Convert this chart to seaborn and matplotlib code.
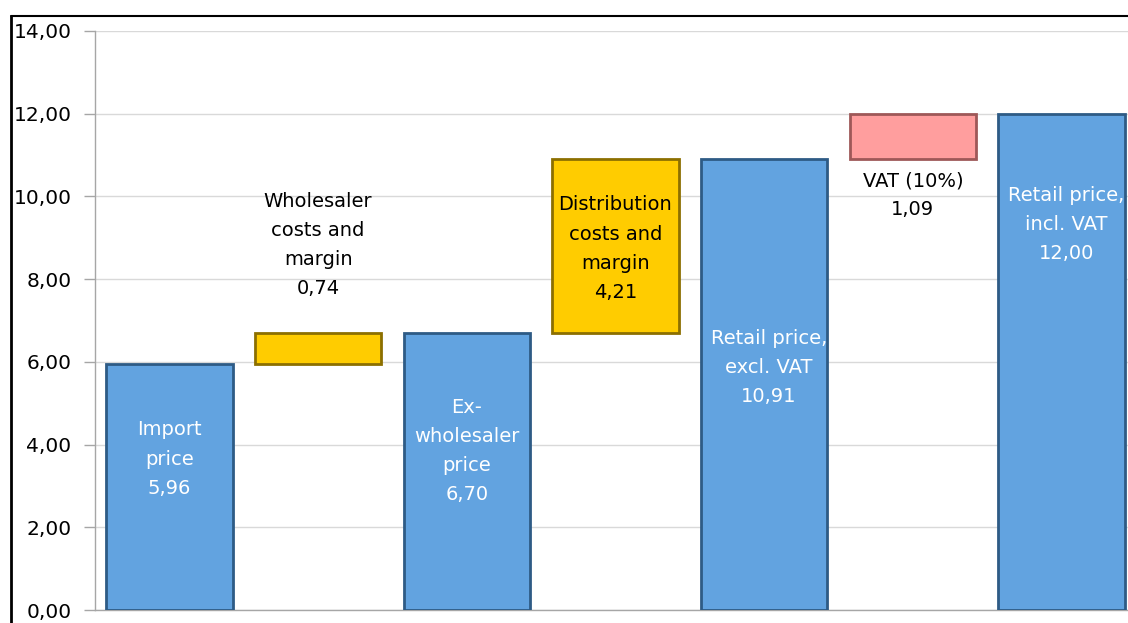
import matplotlib
matplotlib.use("Agg")
import matplotlib.pyplot as plt
import seaborn as sns
import pandas as pd
from matplotlib.lines import Line2D

# ---- data ----
categories = ["Import price", "Wholesaler costs and margin", "Ex-wholesaler price",
              "Distribution costs and margin", "Retail price, excl. VAT",
              "VAT (10%)", "Retail price, incl. VAT"]
heights = [5.96, 0.74, 6.70, 4.21, 10.91, 1.09, 12.00]
bottoms = [0.0, 5.96, 0.0, 6.70, 0.0, 10.91, 0.0]
bar_labels = ["Import\nprice\n5,96", "Wholesaler\ncosts and\nmargin\n0,74",
              "Ex-\nwholesaler\nprice\n6,70", "Distribution\ncosts and\nmargin\n4,21",
              "Retail price,\nexcl. VAT\n10,91", "VAT (10%)\n1,09",
              "Retail price,\nincl. VAT\n12,00"]
label_y = [3.65, 8.83, 3.84, 8.74, 5.86, 10.03, 9.33]
label_dx = [0.0, 0.0, 0.0, 0.0, 0.03, 0.0, 0.03]
label_colors = ["white", "black", "white", "black", "white", "black", "white"]
bar_colors = ["#62A3E0", "#FFCC00", "#62A3E0", "#FFCC00", "#62A3E0", "#FF9E9E", "#62A3E0"]
edge_colors = ["#2E5B85", "#8C6F00", "#2E5B85", "#8C6F00", "#2E5B85", "#9E5858", "#2E5B85"]
yticks = [0, 2, 4, 6, 8, 10, 12, 14]
ytick_labels = ["0,00", "2,00", "4,00", "6,00", "8,00", "10,00", "12,00", "14,00"]

df = pd.DataFrame({"category": categories, "height": heights})

sns.set_theme(style="white")
plt.rcParams["font.family"] = ["DejaVu Sans"]

fig = plt.figure(figsize=(11.28, 6.23), dpi=100)
ax = fig.add_axes([95 / 1128, 13 / 623, (1136 - 95) / 1128, (610 - 31) / 623])

sns.barplot(data=df, x="category", y="height", bottom=bottoms, width=0.85,
            color="#62A3E0", ax=ax, zorder=3)

for patch, fc, ec in zip(ax.patches, bar_colors, edge_colors):
    patch.set_facecolor(fc)
    patch.set_edgecolor(ec)
    patch.set_linewidth(2.0)

for i, (txt, y, dx, c) in enumerate(zip(bar_labels, label_y, label_dx, label_colors)):
    ax.text(i + dx, y, txt, ha="center", va="center", color=c, fontsize=14,
            linespacing=1.67, zorder=5)

ax.set_ylim(0, 14)
ax.set_xlim(-0.5, len(categories) - 0.5)
ax.set_yticks(yticks)
ax.set_yticklabels(ytick_labels)
ax.set_xticks([])
ax.set_xlabel("")
ax.set_ylabel("")
ax.yaxis.grid(True, color="#D9D9D9", linewidth=1.0, zorder=0)
ax.set_axisbelow(True)
ax.tick_params(axis="y", which="major", left=True, length=8, width=1,
               color="#A6A6A6", labelsize=14.5, pad=9, labelcolor="black")
for side in ["top", "right"]:
    ax.spines[side].set_visible(False)
ax.spines["left"].set_color("#A6A6A6")
ax.spines["bottom"].set_color("#A6A6A6")
ax.spines["left"].set_linewidth(1)
ax.spines["bottom"].set_linewidth(1)

# figure frame (left and top borders)
bx = 10.5 / 1128
by = 1 - 15.5 / 623
fig.add_artist(Line2D([bx, bx], [0, by], transform=fig.transFigure, color="black", linewidth=2))
fig.add_artist(Line2D([bx, 1], [by, by], transform=fig.transFigure, color="black", linewidth=1.5))

fig.savefig("out.png", dpi=100)
